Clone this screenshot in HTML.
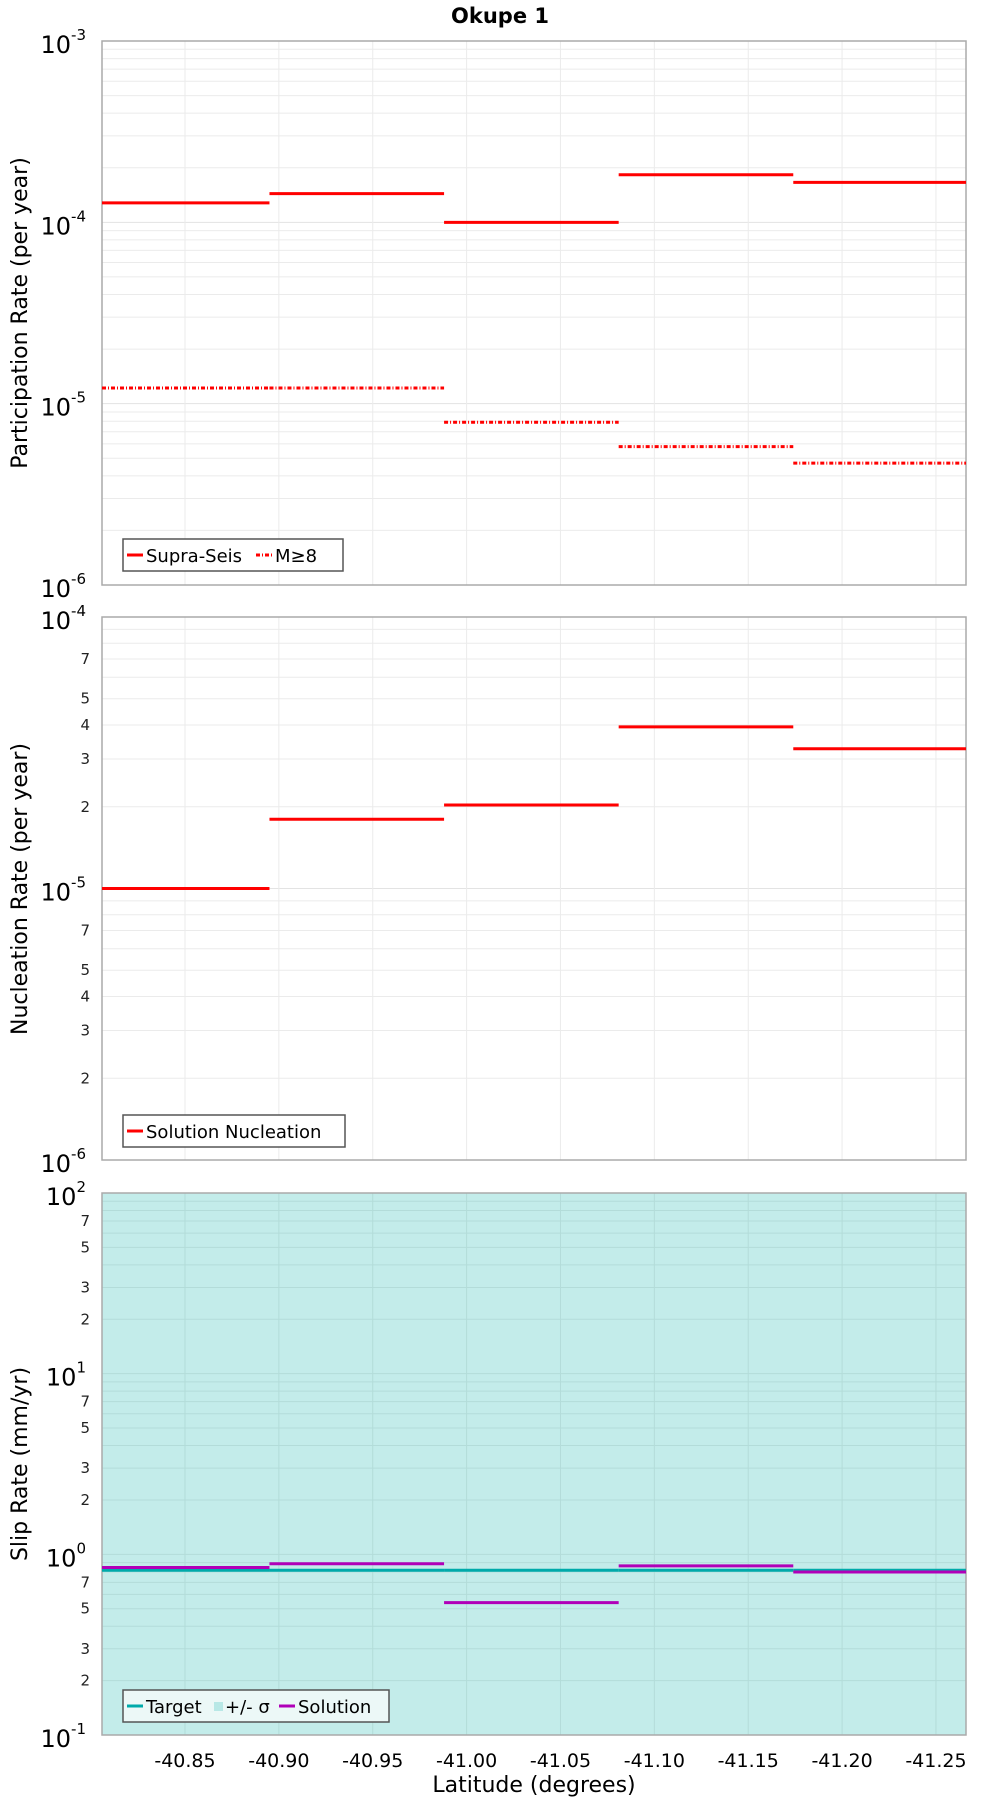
<!DOCTYPE html>
<html><head><meta charset="utf-8"><style>
body{margin:0;background:#fff}
svg{display:block;font-family:"DejaVu Sans","Liberation Sans",sans-serif}
</style></head><body>
<svg id="c" width="1000" height="1800" xmlns="http://www.w3.org/2000/svg"></svg>
<script>
const segBounds=[-40.8058,-40.895,-40.988,-41.081,-41.174,-41.266];
const xTicks=[-40.85,-40.90,-40.95,-41.00,-41.05,-41.10,-41.15,-41.20,-41.25];
const xTickLabels=["-40.85","-40.90","-40.95","-41.00","-41.05","-41.10","-41.15","-41.20","-41.25"];
const supraSeis=[1.28e-4,1.44e-4,1.0e-4,1.83e-4,1.66e-4];
const m8=[1.22e-5,1.22e-5,7.9e-6,5.8e-6,4.7e-6];
const nucleation=[1.0e-5,1.8e-5,2.03e-5,3.94e-5,3.27e-5];
const slipTarget=[0.816,0.816,0.816,0.816,0.816];
const slipSolution=[0.845,0.887,0.54,0.863,0.798];
const NS="http://www.w3.org/2000/svg";
const svg=document.getElementById('c');
const L=102,R=966;
function X(v){return L+(v-segBounds[0])/(segBounds[5]-segBounds[0])*(R-L);}
function mk(tag,attrs,parent){const e=document.createElementNS(NS,tag);for(const k in attrs)e.setAttribute(k,attrs[k]);(parent||svg).appendChild(e);return e;}
function panel(name,top,bot,dmin,dmax,minorLabels,bg){
  const g=mk('g',{});
  
  
  const Y=v=>bot-(Math.log10(v)-dmin)/(dmax-dmin)*(bot-top);
  mk('rect',{x:L,y:top,width:R-L,height:bot-top,fill:bg||'#fff'},g);
  for(let d=dmin;d<dmax;d++)for(let m=2;m<=9;m++){const y=Y(m*Math.pow(10,d));mk('line',{x1:L,x2:R,y1:y,y2:y,stroke:bg?'#b3dcd9':'#ebebeb','stroke-width':1},g);
    if(minorLabels.includes(m)){const t=mk('text',{x:L-12,y:y+5,'text-anchor':'end','font-size':15,fill:'#222'},g);t.textContent=m;}}
  for(let d=dmin+1;d<dmax;d++){const y=Y(Math.pow(10,d));mk('line',{x1:L,x2:R,y1:y,y2:y,stroke:bg?'#b3dcd9':'#e3e3e3','stroke-width':1},g);}
  xTicks.forEach(v=>mk('line',{x1:X(v),x2:X(v),y1:top,y2:bot,stroke:bg?'#b3dcd9':'#ebebeb'},g));
  for(let d=dmin;d<=dmax;d++){const y=Y(Math.pow(10,d));const t=mk('text',{x:L-16,y:y+12,'text-anchor':'end','font-size':24,fill:'#000'},g);t.textContent='10';const s=mk('tspan',{dy:-13,'font-size':15},t);s.textContent=String(d);}
  mk('rect',{x:L,y:top,width:R-L,height:bot-top,fill:'none',stroke:'#aaa','stroke-width':1.5},g);
  return {g,Y};
}
function steps(p,vals,color,dash,name){vals.forEach((v,i)=>{const l=mk('line',{x1:X(segBounds[i]),x2:X(segBounds[i+1]),y1:p.Y(v),y2:p.Y(v),stroke:color,'stroke-width':3},p.g);if(dash)l.setAttribute('stroke-dasharray',dash);
  
  });}
const tt=mk('text',{x:500,y:23,'text-anchor':'middle','font-size':21,'font-weight':'bold'});tt.textContent='Okupe 1';


const p1=panel('participation-panel',41,585,-6,-3,[],null);
steps(p1,supraSeis,'#f00',null,'supra-seis-segment');
steps(p1,m8,'#f00','4 2 1 2','m8-segment');
const p2=panel('nucleation-panel',617,1160,-6,-4,[2,3,4,5,7],null);
steps(p2,nucleation,'#f00',null,'nucleation-segment');
const p3=panel('slip-panel',1193,1735,-1,2,[2,3,5,7],'#c3ecea');
steps(p3,slipTarget,'#00aaaa',null,'target-segment');
steps(p3,slipSolution,'#b000b8',null,'solution-segment');
xTicks.forEach((v,i)=>{const t=mk('text',{x:X(v),y:1767,'text-anchor':'middle','font-size':19});t.textContent=xTickLabels[i];
  
  });
function ytitle(txt,cy,name){const t=mk('text',{x:0,y:0,'text-anchor':'middle','font-size':22,transform:`translate(27,${cy}) rotate(-90)`});t.textContent=txt;
  
  }
ytitle('Participation Rate (per year)',313,'y-axis-title-participation');
ytitle('Nucleation Rate (per year)',889,'y-axis-title-nucleation');
ytitle('Slip Rate (mm/yr)',1464,'y-axis-title-slip');
const xl=mk('text',{x:534,y:1792,'text-anchor':'middle','font-size':22});xl.textContent='Latitude (degrees)';


function legend(x,y,w,items,name,bg){const g=mk('g',{});
  
  
  mk('rect',{x,y,width:w,height:32,fill:bg,stroke:'#555','stroke-width':1.5},g);
  let cx=x+4;items.forEach(it=>{if(it.box){mk('rect',{x:cx,y:y+12,width:9,height:9,fill:it.c},g);cx+=11;}else{const l=mk('line',{x1:cx,x2:cx+16,y1:y+16,y2:y+16,stroke:it.c,'stroke-width':3},g);if(it.d)l.setAttribute('stroke-dasharray',it.d);cx+=19;}
    const t=mk('text',{x:cx,y:y+23,'font-size':18},g);t.textContent=it.t;cx+=it.w;});}
legend(123,539,220,[{c:'#f00',t:'Supra-Seis',w:110},{c:'#f00',t:'M≥8',d:'4 2 1 2',w:40}],'legend-participation','#fff');
legend(123,1115,222,[{c:'#f00',t:'Solution Nucleation',w:190}],'legend-nucleation','#fff');
legend(123,1690,266,[{c:'#00aaaa',t:'Target',w:68},{c:'#b8e8e6',t:'+/- σ',box:1,w:54},{c:'#b000b8',t:'Solution',w:90}],'legend-slip','#ecf8f7');
</script>
</body></html>
